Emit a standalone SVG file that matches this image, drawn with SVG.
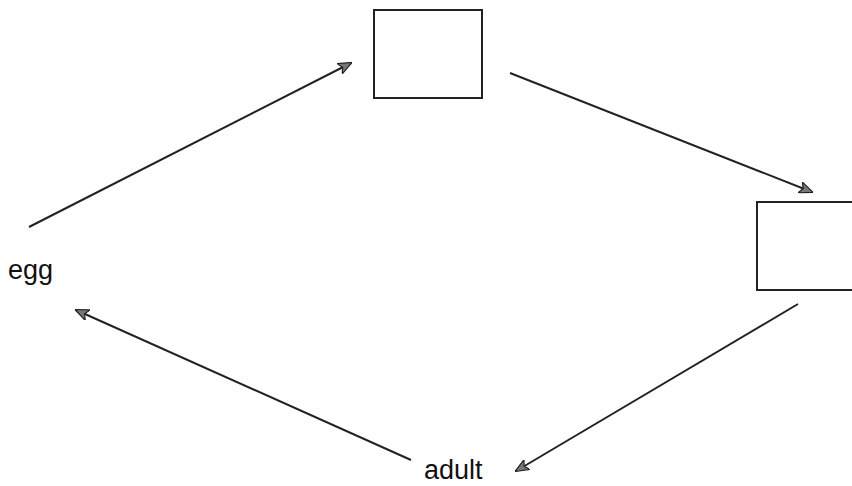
<svg xmlns="http://www.w3.org/2000/svg" width="852" height="486" viewBox="0 0 852 486">
<style>
.box{fill:#fff;stroke:#222;stroke-width:2}
.lbl{font-family:"Liberation Sans",Arial,sans-serif;font-size:27px;fill:#111}
.edge{stroke:#222;stroke-width:2;fill:none;marker-end:url(#ah)}
</style>
<defs>
<marker id="ah" viewBox="0 0 12 10" refX="11" refY="5" markerWidth="7" markerHeight="6" orient="auto" markerUnits="strokeWidth">
<path d="M0,0 L12,5 L0,10 L3,5 Z" fill="#777" stroke="#222" stroke-width="1"/>
</marker>
</defs>
<rect width="852" height="486" fill="#fff"/>
<g id="connectors">
<line class="edge" x1="29" y1="227" x2="351" y2="63"/>
<line class="edge" x1="510" y1="73" x2="812" y2="192"/>
<line class="edge" x1="798" y1="304" x2="516" y2="471"/>
<line class="edge" x1="411" y1="460" x2="76" y2="310"/>
</g>
<g id="box1"><rect class="box" x="374" y="10" width="108" height="88"/></g>
<g id="box2"><rect class="box" x="757" y="202" width="100" height="88"/></g>
<g id="egg"><text class="lbl" x="8" y="279">egg</text></g>
<g id="adult"><text class="lbl" x="424" y="479">adult</text></g>
</svg>
